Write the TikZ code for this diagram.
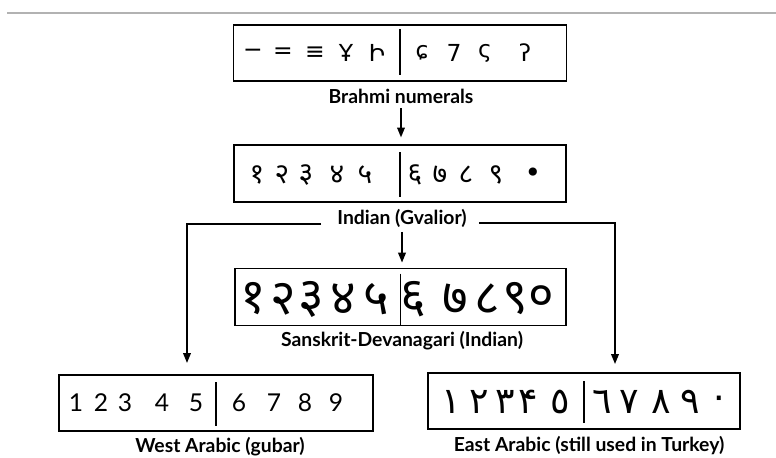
\documentclass[tikz,border=0pt]{standalone}
\usepackage{fontspec}
\setmainfont{Lato}
\newfontfamily\devfont[Script=Devanagari]{Noto Sans}
\newfontfamily\arabicfont[Script=Arabic]{DejaVu Sans}
\newfontfamily\symfont{DejaVu Sans}
\usetikzlibrary{arrows.meta}

\begin{document}
\begin{tikzpicture}[x=0.3mm,y=-0.3mm,
    numbox/.style={draw,line width=1.5pt,minimum height=16.8mm,inner sep=0pt},
    divider/.style={line width=1.4pt},
    caption/.style={font=\fontsize{16.5}{19}\selectfont\bfseries,inner sep=1pt},
    link/.style={line width=1.5pt,-{Triangle[length=8.5pt,width=6.5pt]}}]
  \useasboundingbox (0,0) rectangle (776,457);
  \draw[black!30,line width=1pt] (7,13) -- (776,13);

  % the five number rows
  \node[numbox,minimum width=99.9mm] (brahmi) at (400,53) {};
  \node[numbox,minimum width=99.6mm,minimum height=17.1mm] (gvalior) at (400,173.5) {};
  \node[numbox,minimum width=99.3mm,minimum height=17.1mm] (sanskrit) at (400.5,297) {};
  \node[numbox,minimum width=94.2mm] (west) at (216,403) {};
  \node[numbox,minimum width=93.6mm] (east) at (584,401) {};

  \foreach \b/\top/\bot in {brahmi/1.5mm/2.1mm, gvalior/2.4mm/1.8mm,
      sanskrit/1.8mm/0.3mm, west/2.4mm/1.8mm, east/2.7mm/2.1mm}
    \draw[divider,shorten <=\top,shorten >=\bot] (\b.north) -- (\b.south);

  \foreach \x/\d [count=\k] in {253/−,283/=,315/≡,346/Ұ,377/Ի,422/ɕ,454/7,485/ς,525/ʔ}
    \node[font=\symfont\fontsize{20}{20}\selectfont] (bd\k) at (\x,53) {\d};
  \foreach \x/\d [count=\k] in {257/१,282/२,306/३,337/४,365/५,415/६,440/७,466/८,496/९,533/{\symfont •}}
    \node[font=\devfont\fontsize{24}{24}\selectfont] (gd\k) at (\x,175) {\d};
  \foreach \x/\d [count=\k] in {253/१,283/२,311/३,343/४,376/५,413/६,455/७,487/८,515/९,541/०}
    \node[font=\devfont\bfseries\fontsize{42}{42}\selectfont,inner sep=0pt] (sd\k) at (\x,299) {\d};
  \foreach \x/\d [count=\k] in {76/1,101/2,125/3,162/4,196/5,239/6,274/7,305/8,336/9}
    \node[font=\fontsize{21}{21}\selectfont] (wd\k) at (\x,403) {\d};
  \foreach \x/\d [count=\k] in {451/١,479/٢,505/٣,528/۴,560/٥,602/٦,629/٧,661/٨,690/٩,719/٠}
    \node[font=\arabicfont\fontsize{31}{31}\selectfont] (ed\k) at (\x,402) {\d};

  % names under the rows
  \node[caption] (blab) at (401,96) {Brahmi numerals};
  \node[caption] (glab) at (402,218) {Indian (Gvalior)};
  \node[caption] (slab) at (402,341) {Sanskrit-Devanagari (Indian)};
  \node[caption] (wlab) at (220,447) {West Arabic (gubar)};
  \node[caption] (elab) at (589,446) {East Arabic (still used in Turkey)};

  % descent
  \coordinate (wtip) at (187,363);
  \coordinate (etip) at (615,364);
  \draw[link,shorten <=1mm,shorten >=2mm] (blab.south) -- (blab.south |- gvalior.north);
  \draw[link,shorten <=1mm,shorten >=1.5mm] (glab.south) -- (glab.south |- sanskrit.north);
  \draw[link] ([shift={(-15,6)}]glab.west) -| (wtip);
  \draw[link] ([shift={(11,5)}]glab.east) -| (etip);
\end{tikzpicture}
\end{document}
